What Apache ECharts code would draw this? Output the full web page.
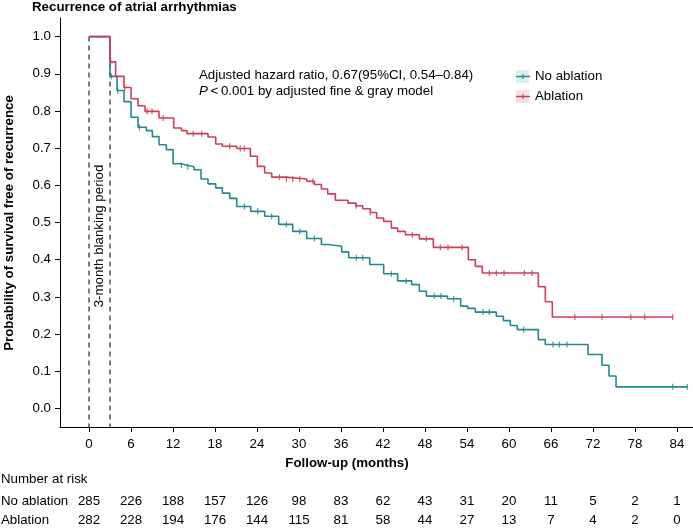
<!DOCTYPE html>
<html><head><meta charset="utf-8">
<script src="https://cdn.jsdelivr.net/npm/echarts@6/dist/echarts.min.js"></script>
<style>html,body{margin:0;padding:0;background:#fff}#c{width:693px;height:528px}</style>
</head><body><div id="c"></div>
<script>
// ---- data ----
const tickMonths = [0, 6, 12, 18, 24, 30, 36, 42, 48, 54, 60, 66, 72, 78, 84];
const yTicks = [0, 0.1, 0.2, 0.3, 0.4, 0.5, 0.6, 0.7, 0.8, 0.9, 1.0];
const groupNames = ['No ablation', 'Ablation'];
const riskNoAbl = [285, 226, 188, 157, 126, 98, 83, 62, 43, 31, 20, 11, 5, 2, 1];
const riskAbl = [282, 228, 194, 176, 144, 115, 81, 58, 44, 27, 13, 7, 4, 2, 0];

const timeNo = [0, 3.0, 4.0, 5.0, 6.0, 7.0, 8.2, 9.05, 10.0, 11.05, 12.0, 13.2, 14.0, 15.0, 16.0, 17.0, 18.1, 19.05, 20.1, 21.1, 23.1, 25.1, 27.1, 29.1, 31.1, 33.2, 34.2, 36.1, 37.1, 40.1, 42.1, 44.1, 46.1, 47.2, 48.2, 51.2, 53.1, 54.1, 55.2, 58.2, 59.2, 60.2, 61.2, 64.2, 65.2, 71.3, 73.3, 74.3, 75.3, 85.5];
const survNo = [1.0, 0.893, 0.855, 0.825, 0.783, 0.756, 0.747, 0.731, 0.709, 0.696, 0.658, 0.654, 0.650, 0.642, 0.617, 0.604, 0.593, 0.579, 0.565, 0.543, 0.530, 0.517, 0.495, 0.476, 0.457, 0.441, 0.436, 0.421, 0.405, 0.387, 0.362, 0.343, 0.333, 0.315, 0.302, 0.295, 0.275, 0.269, 0.259, 0.248, 0.236, 0.223, 0.212, 0.185, 0.172, 0.145, 0.116, 0.087, 0.058, 0.058];
const censorNo = [3.2, 4.1, 7.2, 13.2, 14.1, 22.2, 24.1, 26.1, 28.2, 30.1, 32.2, 38.2, 39.1, 43.2, 45.3, 49.3, 50.3, 52.1, 56.3, 57.2, 62.1, 66.3, 67.2, 68.3, 83.4, 85.5];

const timeAbl = [0, 3.0, 3.8, 5.0, 6.0, 7.0, 8.0, 10.0, 12.1, 13.2, 14.0, 17.0, 18.1, 19.05, 21.1, 23.05, 24.05, 25.1, 26.1, 28.1, 31.1, 32.2, 33.2, 34.1, 35.2, 37.0, 38.1, 39.1, 40.2, 41.1, 42.1, 43.2, 44.1, 45.2, 47.2, 49.2, 54.2, 55.2, 56.2, 64.2, 65.2, 66.2, 83.4];
const survAbl = [1.0, 0.932, 0.893, 0.863, 0.833, 0.814, 0.799, 0.781, 0.754, 0.747, 0.739, 0.730, 0.711, 0.705, 0.699, 0.678, 0.651, 0.633, 0.622, 0.617, 0.611, 0.602, 0.590, 0.577, 0.560, 0.552, 0.545, 0.537, 0.527, 0.512, 0.503, 0.485, 0.476, 0.467, 0.456, 0.433, 0.400, 0.382, 0.364, 0.327, 0.287, 0.246, 0.246];
const censorAbl = [3.1, 5.1, 8.3, 9.0, 10.6, 14.9, 16.1, 20.1, 21.6, 22.2, 27.2, 28.2, 29.1, 30.1, 32.0, 38.2, 40.2, 46.2, 48.2, 50.2, 51.3, 53.3, 57.2, 58.2, 59.3, 62.2, 63.3, 69.4, 73.3, 77.4, 79.4, 83.4];
const blankingMonths = [0, 3];

// ---- styling ----
const FONT = '"Liberation Sans", Arial, Helvetica, sans-serif';
const FS = 13.3;
const TEAL = '#23898F';
const RED = '#CF3D59';
const TEAL_BG = '#DCEFF0';
const RED_BG = '#FADDE3';

function stepVal(ts, ss, t) {
  let v = ss[0];
  for (let i = 0; i < ts.length; i++) if (ts[i] <= t + 1e-9) v = ss[i];
  return v;
}
const pairs = (a, b) => a.map((x, i) => [x, b[i]]);
const censorPts = (cs, ts, ss) => cs.map(t => [t, stepVal(ts, ss, t)]);

const chart = echarts.init(document.getElementById('c'), null, {renderer: 'canvas'});

const series = [];
blankingMonths.forEach(m => {
  series.push({
    type: 'line', data: [[m, 1.0], [m, -0.05]], symbol: 'none', silent: true, z: 1,
    lineStyle: {color: '#333', width: 1.3, type: [5, 4]}
  });
});
series.push({
  name: groupNames[0], type: 'line', step: 'end', data: pairs(timeNo, survNo), symbol: 'none', z: 3,
  lineStyle: {color: TEAL, width: 1.6}
});
series.push({
  name: groupNames[1], type: 'line', step: 'end', data: pairs(timeAbl, survAbl), symbol: 'none', z: 3,
  lineStyle: {color: RED, width: 1.6}
});
series.push({
  type: 'scatter', data: censorPts(censorNo, timeNo, survNo), symbol: 'rect', symbolSize: [1.3, 6], z: 4,
  itemStyle: {color: TEAL}
});
series.push({
  type: 'scatter', data: censorPts(censorAbl, timeAbl, survAbl), symbol: 'rect', symbolSize: [1.3, 6], z: 4,
  itemStyle: {color: RED}
});

chart.setOption({
  animation: false,
  backgroundColor: '#fff',
  grid: {left: 60, right: 0, top: 18, bottom: 101, containLabel: false},
  xAxis: {
    type: 'value', min: -4.15, max: 86.3,
    axisLine: {onZero: false, lineStyle: {color: '#000', width: 1}},
    axisTick: {customValues: tickMonths, length: 5, lineStyle: {color: '#000'}},
    axisLabel: {customValues: tickMonths, margin: 11, fontSize: FS, color: '#000', fontFamily: FONT},
    splitLine: {show: false}
  },
  yAxis: {
    type: 'value', min: -0.05, max: 1.05,
    axisLine: {show: true, onZero: false, lineStyle: {color: '#000', width: 1}},
    axisTick: {show: true, customValues: yTicks, length: 5, lineStyle: {color: '#000'}},
    axisLabel: {customValues: yTicks, margin: 9, fontSize: FS, color: '#000', fontFamily: FONT,
      formatter: v => Number(v).toFixed(1)},
    splitLine: {show: false}
  },
  series: series
});

// ---- texts / legend / risk table ----
const g = [];
g.push({type: 'text', left: 32, top: 1, style: {text: 'Recurrence of atrial arrhythmias', font: 'bold ' + FS + 'px ' + FONT, fill: '#000'}});
g.push({type: 'text', x: 9, y: 223, rotation: Math.PI / 2,
  style: {text: 'Probability of survival free of recurrence', font: 'bold ' + FS + 'px ' + FONT, fill: '#000', align: 'center', verticalAlign: 'middle'}});
const blankX = chart.convertToPixel({xAxisIndex: 0}, (blankingMonths[0] + blankingMonths[1]) / 2);
g.push({type: 'text', x: blankX, y: 236, rotation: Math.PI / 2,
  style: {text: '3-month blanking period', font: FS + 'px ' + FONT, fill: '#000', align: 'center', verticalAlign: 'middle'}});
g.push({type: 'text', x: 199, y: 75,
  style: {text: 'Adjusted hazard ratio, 0.67(95%CI, 0.54\u20130.84)', font: FS + 'px ' + FONT, fill: '#000', verticalAlign: 'middle'}});
g.push({type: 'text', x: 199, y: 91,
  style: {text: '{i|P}\u2009<\u20090.001 by adjusted fine & gray model', font: FS + 'px ' + FONT, fill: '#000', verticalAlign: 'middle',
    rich: {i: {fontStyle: 'italic', fontSize: FS, fontFamily: FONT}}}});
// legend
[[groupNames[0], TEAL, TEAL_BG, 76.5], [groupNames[1], RED, RED_BG, 96.5]].forEach(([nm, col, bg, yy]) => {
  g.push({type: 'rect', shape: {x: 516, y: yy - 6.5, width: 13, height: 13}, style: {fill: bg}});
  g.push({type: 'line', shape: {x1: 516, y1: yy, x2: 530, y2: yy}, style: {stroke: col, lineWidth: 1.4}});
  g.push({type: 'line', shape: {x1: 523, y1: yy - 2.5, x2: 523, y2: yy + 2.5}, style: {stroke: col, lineWidth: 1.2}});
  g.push({type: 'text', x: 535, y: yy, style: {text: nm, font: FS + 'px ' + FONT, fill: '#000', verticalAlign: 'middle'}});
});
// axis title
g.push({type: 'text', x: 347, y: 463, style: {text: 'Follow-up (months)', font: 'bold ' + FS + 'px ' + FONT, fill: '#000', align: 'center', verticalAlign: 'middle'}});
// risk table
g.push({type: 'text', x: 1, y: 479, style: {text: 'Number at risk', font: FS + 'px ' + FONT, fill: '#000', verticalAlign: 'middle'}});
[[groupNames[0], riskNoAbl, 501], [groupNames[1], riskAbl, 520]].forEach(([nm, arr, yy]) => {
  g.push({type: 'text', x: 1, y: yy, style: {text: nm, font: FS + 'px ' + FONT, fill: '#000', verticalAlign: 'middle'}});
  arr.forEach((n, i) => {
    const px = chart.convertToPixel({xAxisIndex: 0}, tickMonths[i]);
    g.push({type: 'text', x: px, y: yy, style: {text: String(n), font: FS + 'px ' + FONT, fill: '#000', align: 'center', verticalAlign: 'middle'}});
  });
});
chart.setOption({graphic: g});
</script>
</body></html>
